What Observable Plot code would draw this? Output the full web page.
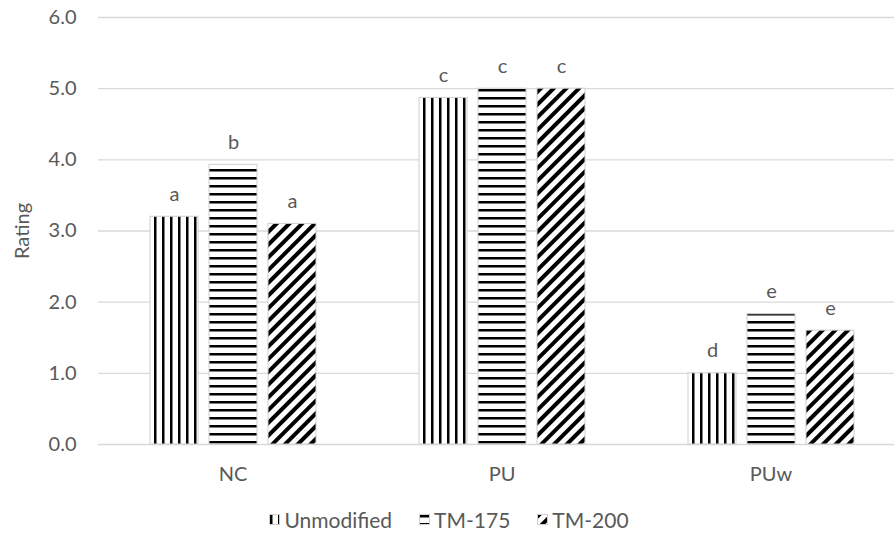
<!DOCTYPE html>
<html><head><meta charset="utf-8">
<script src="https://cdn.jsdelivr.net/npm/d3@7"></script>
<script src="https://cdn.jsdelivr.net/npm/@observablehq/plot@0.6"></script>
<style>
html,body{margin:0;background:#fff;font-family:Lato,sans-serif;overflow:hidden;width:894px;}
#chart svg{overflow:visible;}
#legend{display:flex;justify-content:center;align-items:center;gap:27px;height:49px;color:#595959;font-size:21px;padding-left:4px;}
#legend .item{display:flex;align-items:center;gap:4px;}
#legend svg{display:block;}
</style></head><body>
<div id="chart"></div>
<div id="legend"></div>
<script>
const categories = ["NC", "PU", "PUw"];
const series = ["Unmodified", "TM-175", "TM-200"];
const unmodified = [3.2, 4.87, 1.0];
const tm175 = [3.93, 5.0, 1.83];
const tm200 = [3.1, 5.0, 1.6];
const lettersUnmodified = ["a", "c", "d"];
const lettersTM175 = ["b", "c", "e"];
const lettersTM200 = ["a", "c", "e"];
const yTicks = [0, 1, 2, 3, 4, 5, 6];
const patternFills = ["url(#pv)", "url(#ph)", "url(#pd)"];

const valueSets = [unmodified, tm175, tm200];
const letterSets = [lettersUnmodified, lettersTM175, lettersTM200];
const data = [];
categories.forEach((c, i) => series.forEach((s, j) => data.push({category: c, series: s, value: valueSets[j][i], letter: letterSets[j][i], fill: patternFills[j]})));

const defs = `
<defs>
<pattern id="pv" patternUnits="userSpaceOnUse" width="8" height="8"><rect width="8" height="8" fill="#fff"/><rect x="1" width="2.5" height="8" fill="#000"/></pattern>
<pattern id="ph" patternUnits="userSpaceOnUse" width="8" height="8"><rect width="8" height="8" fill="#fff"/><rect y="1" width="8" height="2.5" fill="#000"/></pattern>
<pattern id="pd" patternUnits="userSpaceOnUse" width="9" height="9" patternTransform="rotate(45)"><rect width="9" height="9" fill="#fff"/><rect width="4" height="9" fill="#000"/></pattern>
</defs>`;

const chart = Plot.plot({
  width: 894,
  height: 495,
  marginTop: 17,
  marginBottom: 51,
  marginLeft: 97,
  marginRight: -11.5,
  style: {fontFamily: "Lato, sans-serif", fontSize: "20px", color: "#595959", background: "#fff", overflow: "visible"},
  fx: {domain: categories, padding: 0, label: null, axis: "bottom", tickSize: 0, tickPadding: 22},
  x: {domain: series, paddingInner: 0.193, paddingOuter: 0.861, axis: null},
  y: {domain: [0, 6], ticks: yTicks, tickFormat: d => d.toFixed(1), tickSize: 0, tickPadding: 22, label: "Rating", labelAnchor: "center", labelOffset: 84, labelArrow: "none"},
  color: {type: "identity"},
  marks: [
    Plot.ruleY(yTicks, {stroke: "#d9d9d9", strokeWidth: 1.3}),
    Plot.barY(data, {fx: "category", x: "series", y: "value", fill: "fill", stroke: "#d0d0d0", strokeWidth: 1}),
    Plot.text(data, {fx: "category", x: "series", y: "value", text: "letter", lineAnchor: "bottom", dy: -16, fill: "#595959", fontSize: 20})
  ]
});
chart.insertAdjacentHTML("afterbegin", defs);
chart.querySelectorAll("text").forEach(t => { if (!t.getAttribute("fill")) t.setAttribute("fill", "#595959"); });
chart.querySelectorAll("g[aria-label$='axis'], g[aria-label*='label']").forEach(g => g.setAttribute("fill", "#595959"));
document.getElementById("chart").appendChild(chart);

const legend = document.getElementById("legend");
series.forEach((s, j) => {
  const item = document.createElement("div");
  item.className = "item";
  item.innerHTML = `<svg width="11" height="11">${defs}<rect x="0.5" y="0.5" width="10" height="10" fill="${patternFills[j]}" stroke="#d0d0d0"/></svg><span>${s}</span>`;
  legend.appendChild(item);
});
</script>
</body></html>
